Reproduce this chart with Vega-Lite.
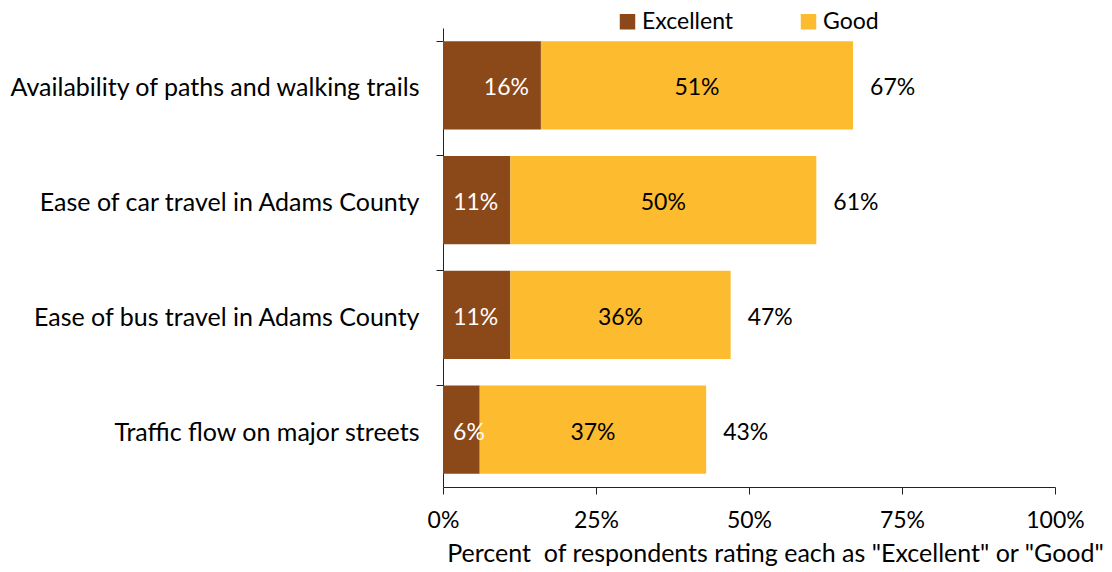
{
  "$schema": "https://vega.github.io/schema/vega-lite/v6.json",
  "width": 612,
  "height": 459,
  "autosize": {"type": "none"},
  "padding": {"left": 443, "top": 28, "right": 57, "bottom": 85},
  "config": {
    "font": "Lato",
    "view": {"stroke": null},
    "axis": {"labelFont": "Lato", "titleFont": "Lato", "labelColor": "#000", "titleColor": "#000", "domainColor": "#222", "tickColor": "#222", "grid": false}
  },
  "data": {
    "values": [
      {"category": "Availability of paths and walking trails", "rating": "Excellent", "value": 16},
      {"category": "Availability of paths and walking trails", "rating": "Good", "value": 51},
      {"category": "Ease of car travel in Adams County", "rating": "Excellent", "value": 11},
      {"category": "Ease of car travel in Adams County", "rating": "Good", "value": 50},
      {"category": "Ease of bus travel in Adams County", "rating": "Excellent", "value": 11},
      {"category": "Ease of bus travel in Adams County", "rating": "Good", "value": 36},
      {"category": "Traffic flow on major streets", "rating": "Excellent", "value": 6},
      {"category": "Traffic flow on major streets", "rating": "Good", "value": 37}
    ]
  },
  "encoding": {
    "y": {
      "field": "category",
      "type": "nominal",
      "sort": null,
      "title": null,
      "scale": {"paddingInner": 0.23, "paddingOuter": 0.115},
      "axis": {"bandPosition": 0, "labelFontSize": 25, "labelPadding": 17, "tickSize": 7, "labelLimit": 500, "labelOffset": 3}
    }
  },
  "layer": [
    {
      "mark": {"type": "bar"},
      "encoding": {
        "x": {
          "field": "value",
          "type": "quantitative",
          "stack": "zero",
          "scale": {"domain": [0, 100]},
          "axis": {
            "values": [0, 25, 50, 75, 100],
            "labelExpr": "datum.value + '%'",
            "labelFontSize": 23,
            "labelFlush": false,
            "tickSize": 7,
            "labelPadding": 15,
            "title": "Percent\u00a0 of respondents rating each as \"Excellent\" or \"Good\"",
            "titleFontSize": 25,
            "titleFontWeight": "normal",
            "titlePadding": 9,
            "titleX": 332
          }
        },
        "color": {
          "field": "rating",
          "type": "nominal",
          "scale": {"domain": ["Excellent", "Good"], "range": ["#8B4818", "#FDBC2F"]},
          "legend": {
            "orient": "none",
            "legendX": 173,
            "legendY": -18,
            "direction": "horizontal",
            "title": null,
            "symbolType": "square",
            "symbolSize": 240,
            "symbolStrokeWidth": 0,
            "labelFontSize": 23,
            "labelFont": "Lato",
            "columnPadding": 63,
            "labelOffset": 3
          }
        },
        "order": {"field": "rating", "sort": "ascending"}
      }
    },
    {
      "transform": [
        {"filter": "datum.rating === 'Excellent'"},
        {"calculate": "datum.value + '%'", "as": "lbl"},
        {"calculate": "max(datum.value, 8.8)", "as": "lx"}
      ],
      "mark": {"type": "text", "align": "right", "baseline": "middle", "dx": -12, "dy": 3, "fontSize": 23, "color": "white"},
      "encoding": {
        "x": {"field": "lx", "type": "quantitative"},
        "text": {"field": "lbl", "type": "nominal"}
      }
    },
    {
      "transform": [
        {"stack": "value", "groupby": ["category"], "sort": [{"field": "rating"}], "as": ["v0", "v1"]},
        {"filter": "datum.rating === 'Good'"},
        {"calculate": "(datum.v0 + datum.v1) / 2", "as": "mid"},
        {"calculate": "datum.value + '%'", "as": "lbl"}
      ],
      "mark": {"type": "text", "align": "center", "baseline": "middle", "dy": 3, "fontSize": 23, "color": "black"},
      "encoding": {
        "x": {"field": "mid", "type": "quantitative"},
        "text": {"field": "lbl", "type": "nominal"}
      }
    },
    {
      "transform": [
        {"aggregate": [{"op": "sum", "field": "value", "as": "total"}], "groupby": ["category"]},
        {"calculate": "datum.total + '%'", "as": "lbl"}
      ],
      "mark": {"type": "text", "align": "left", "baseline": "middle", "dx": 17, "dy": 3, "fontSize": 23, "color": "black"},
      "encoding": {
        "x": {"field": "total", "type": "quantitative"},
        "text": {"field": "lbl", "type": "nominal"}
      }
    }
  ]
}
